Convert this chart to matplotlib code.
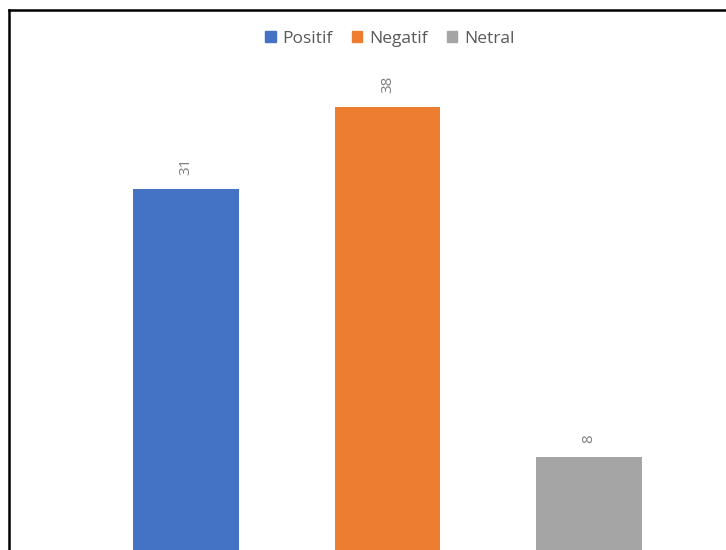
import matplotlib.pyplot as plt
from matplotlib.lines import Line2D
from matplotlib.patches import Patch

# data
series = ["Positif", "Negatif", "Netral"]
values = [31, 38, 8]
colors = ["#4472C4", "#ED7D31", "#A5A5A5"]

W, H = 726, 550
fig = plt.figure(figsize=(W / 100, H / 100), dpi=100)

# axes spans full figure; baseline at the bottom edge
ax = fig.add_axes([0, 0, 1, 1])
px_per_unit = 11.65
ax.set_ylim(0, H / px_per_unit)
ax.set_xlim(-186 / 201.5, (W - 186) / 201.5)

xs = list(range(len(series)))
bars = ax.bar(xs, values, width=0.525, color=colors)
for x, v in zip(xs, values):
    ax.annotate(str(v), (x, v), xytext=(0, 10), textcoords="offset points",
                rotation=90, ha="center", va="bottom", color="#7F7F7F",
                fontsize=11, family=["Open Sans", "DejaVu Sans"])

ax.axis("off")

# outer frame (left and top edges visible)
fig.add_artist(Line2D([8.5 / W, 8.5 / W], [0, 1 - 9.5 / H], color="black", lw=1.8,
                      transform=fig.transFigure))
fig.add_artist(Line2D([8.5 / W, 1], [1 - 9.5 / H, 1 - 9.5 / H], color="black", lw=1.8,
                      transform=fig.transFigure))

handles = [Patch(color=c, label=s) for s, c in zip(series, colors)]
fig.legend(handles=handles, loc="center", bbox_to_anchor=(390 / W, 1 - 39 / H),
           ncol=3, frameon=False, handlelength=0.6, handleheight=0.6,
           handletextpad=0.4, columnspacing=1.1,
           prop={"family": "Open Sans", "size": 12.5}, labelcolor="#595959")

fig.savefig("out.png", dpi=100)
